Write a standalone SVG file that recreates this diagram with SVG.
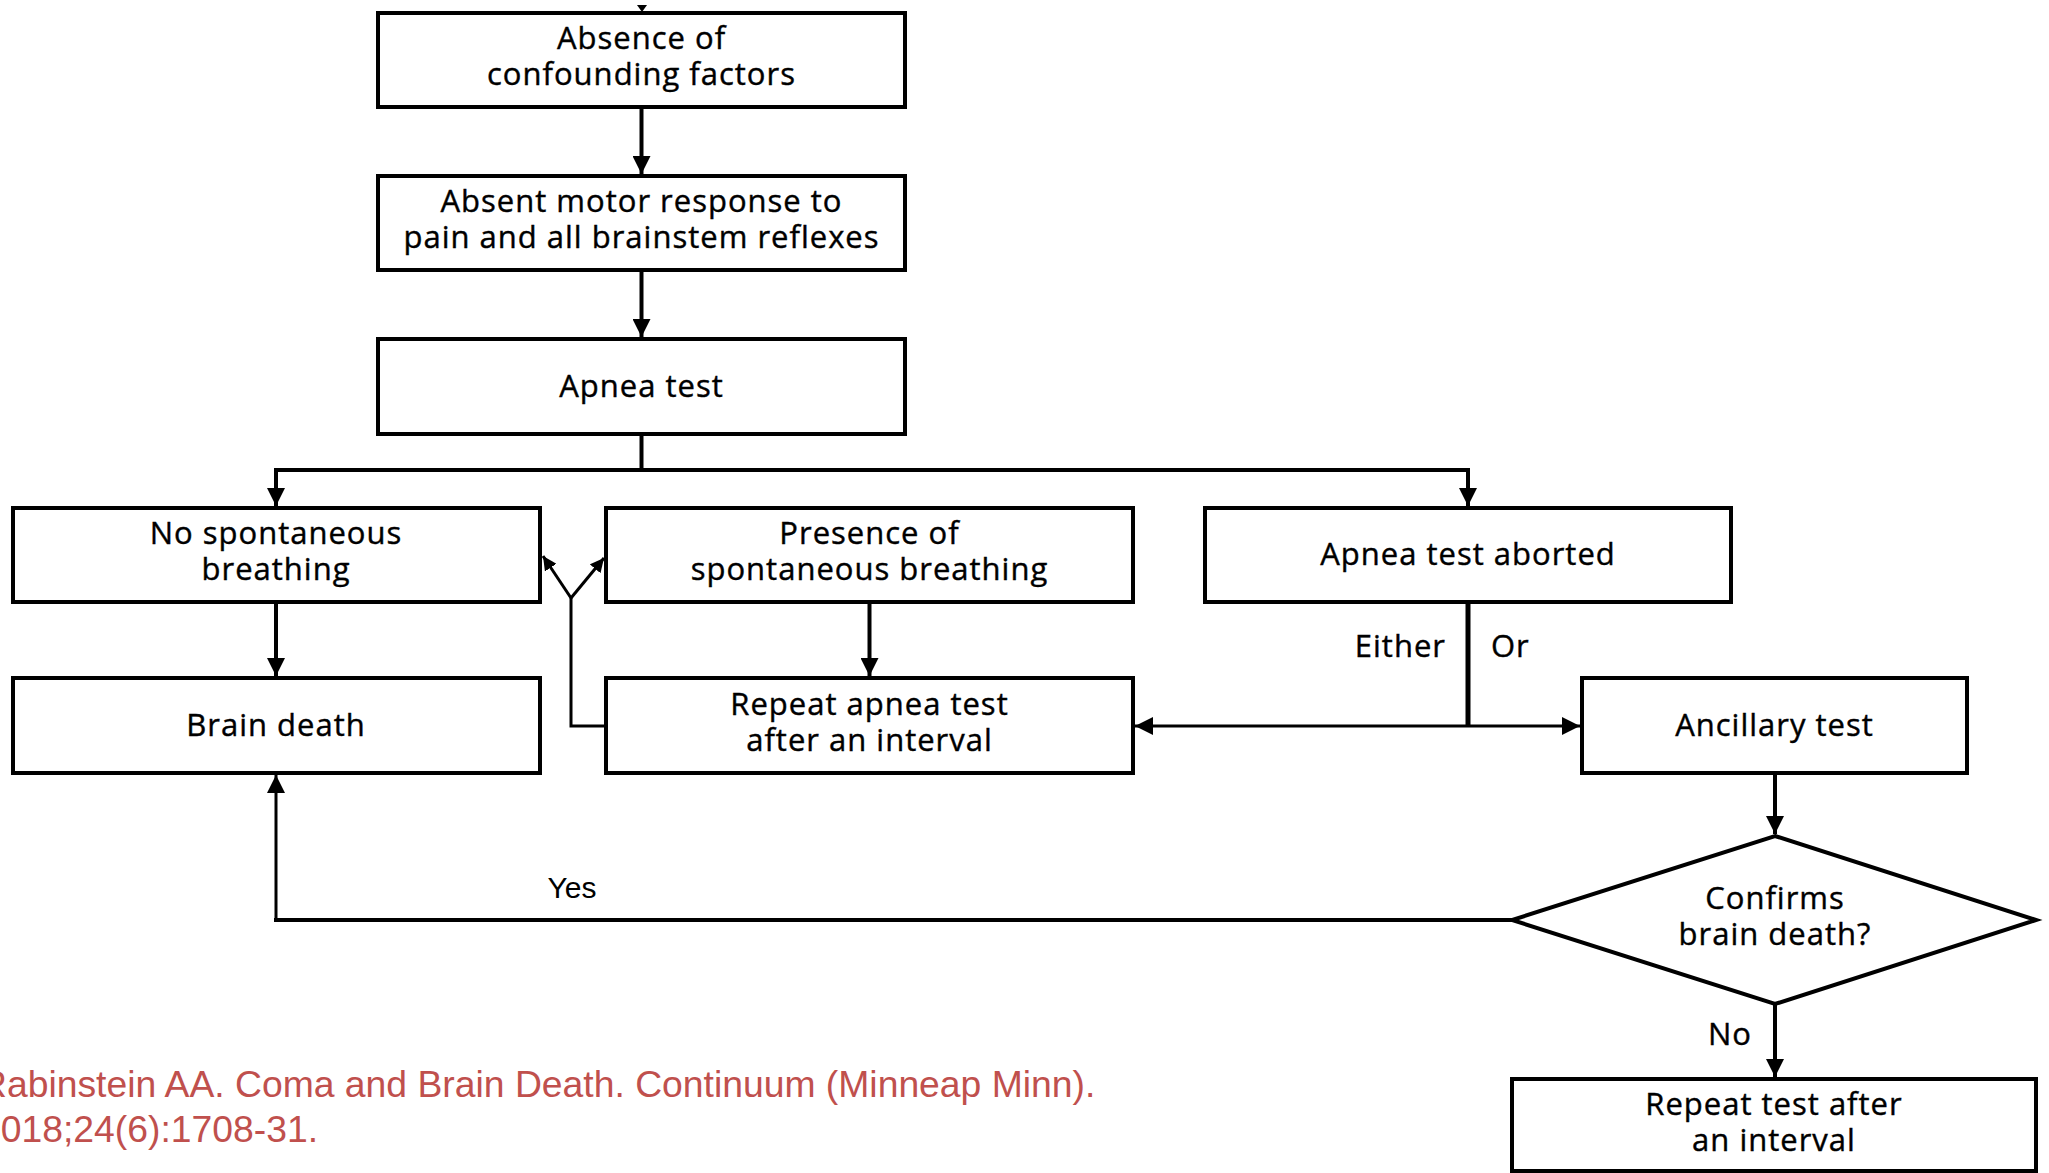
<svg xmlns="http://www.w3.org/2000/svg" width="2049" height="1173" viewBox="0 0 2049 1173">
<style>
.box{fill:#fff;stroke:#000;stroke-width:4}
.t{font-family:"Open Sans","DejaVu Sans",sans-serif;font-size:31px;font-weight:500;fill:#000;stroke:#000;stroke-width:0.4px;text-anchor:middle;letter-spacing:1px}
.lbl{font-family:"Open Sans","DejaVu Sans",sans-serif;font-size:31px;font-weight:500;fill:#000;stroke:#000;stroke-width:0.4px;letter-spacing:1px}
.c{fill:none;stroke:#000;stroke-width:4}
.thin{fill:none;stroke:#000;stroke-width:3}
.cite{font-family:"Liberation Sans",Arial,sans-serif;font-size:37.3px;fill:#C0504D}
</style>
<defs>
<marker id="ah" markerUnits="userSpaceOnUse" markerWidth="18" markerHeight="18" viewBox="0 0 16 16" refX="16" refY="8" orient="auto">
<path d="M0,0 L16,8 L0,16 z" fill="#000"/>
</marker>
<marker id="ahs" markerUnits="userSpaceOnUse" markerWidth="14" markerHeight="14" viewBox="0 0 14 14" refX="14" refY="7" orient="auto">
<path d="M0,0 L14,7 L0,14 z" fill="#000"/>
</marker>
</defs>

<g id="connectors">
<polygon points="637,5 647,5 642,12" fill="#000"/>
<line class="c" x1="641.5" y1="107" x2="641.5" y2="174" marker-end="url(#ah)"/>
<line class="c" x1="641.5" y1="270" x2="641.5" y2="337" marker-end="url(#ah)"/>
<line class="c" x1="641.5" y1="434" x2="641.5" y2="470"/>
<line class="c" x1="274" y1="470" x2="1470" y2="470"/>
<line class="c" x1="276" y1="470" x2="276" y2="506" marker-end="url(#ah)"/>
<line class="c" x1="1468" y1="470" x2="1468" y2="506" marker-end="url(#ah)"/>
<line class="c" x1="276" y1="602" x2="276" y2="676" marker-end="url(#ah)"/>
<line class="c" x1="869.5" y1="602" x2="869.5" y2="676" marker-end="url(#ah)"/>
<polyline class="thin" points="606,726 571,726 571,598"/>
<line class="thin" x1="571" y1="598" x2="543" y2="556" marker-end="url(#ahs)"/>
<line class="thin" x1="571" y1="598" x2="604" y2="558" marker-end="url(#ahs)"/>
<line class="c" x1="1468" y1="602" x2="1468" y2="727" style="stroke-width:5"/>
<line class="thin" x1="1468" y1="726" x2="1135" y2="726" marker-end="url(#ah)"/>
<line class="thin" x1="1468" y1="726" x2="1580" y2="726" marker-end="url(#ah)"/>
<line class="c" x1="1775" y1="773" x2="1775" y2="834" marker-end="url(#ah)"/>
<line class="c" x1="1775" y1="1004" x2="1775" y2="1077" marker-end="url(#ah)"/>
<polyline class="c" points="1512,920 276,920 276,918"/>
<line class="thin" x1="276" y1="921" x2="276" y2="775" marker-end="url(#ah)"/>
<text class="lbl" x="1446" y="657" text-anchor="end">Either</text>
<text class="lbl" x="1491" y="657">Or</text>
<text class="lbl" x="1752" y="1045" text-anchor="end">No</text>
<text x="572" y="898" font-family="Liberation Sans, Arial, sans-serif" font-size="30" text-anchor="middle" fill="#000">Yes</text>
</g>

<g id="n1"><rect class="box" x="378" y="13" width="527" height="94"/>
<text class="t" x="641.5" y="49">Absence of</text><text class="t" x="641.5" y="85">confounding factors</text></g>
<g id="n2"><rect class="box" x="378" y="176" width="527" height="94"/>
<text class="t" x="641.5" y="212">Absent motor response to</text><text class="t" x="641.5" y="248">pain and all brainstem reflexes</text></g>
<g id="n3"><rect class="box" x="378" y="339" width="527" height="95"/>
<text class="t" x="641.5" y="397">Apnea test</text></g>
<g id="n4"><rect class="box" x="13" y="508" width="527" height="94"/>
<text class="t" x="276" y="544">No spontaneous</text><text class="t" x="276" y="580">breathing</text></g>
<g id="n5"><rect class="box" x="606" y="508" width="527" height="94"/>
<text class="t" x="869.5" y="544">Presence of</text><text class="t" x="869.5" y="580">spontaneous breathing</text></g>
<g id="n6"><rect class="box" x="1205" y="508" width="526" height="94"/>
<text class="t" x="1468" y="565">Apnea test aborted</text></g>
<g id="n7"><rect class="box" x="13" y="678" width="527" height="95"/>
<text class="t" x="276" y="736">Brain death</text></g>
<g id="n8"><rect class="box" x="606" y="678" width="527" height="95"/>
<text class="t" x="869.5" y="715">Repeat apnea test</text><text class="t" x="869.5" y="751">after an interval</text></g>
<g id="n9"><rect class="box" x="1582" y="678" width="385" height="95"/>
<text class="t" x="1774.5" y="736">Ancillary test</text></g>
<g id="n10"><polygon class="box" points="1775,836 2036,920 1775,1004 1512,920"/>
<text class="t" x="1775" y="909">Confirms</text><text class="t" x="1775" y="945">brain death?</text></g>
<g id="n11"><rect class="box" x="1512" y="1079" width="524" height="92"/>
<text class="t" x="1774" y="1115">Repeat test after</text><text class="t" x="1774" y="1151">an interval</text></g>

<g id="citation">
<text class="cite" x="-20" y="1097">Rabinstein AA. Coma and Brain Death. Continuum (Minneap Minn).</text>
<text class="cite" x="-20" y="1142">2018;24(6):1708-31.</text>
</g>
</svg>
